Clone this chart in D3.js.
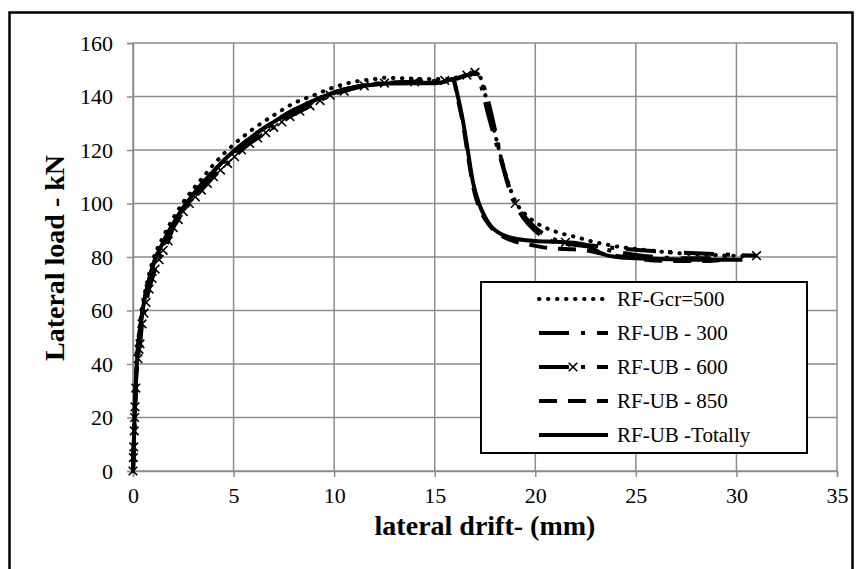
<!DOCTYPE html>
<html>
<head>
<meta charset="utf-8">
<script src="https://cdn.jsdelivr.net/npm/d3@7"></script>
<style>
  body { margin: 0; background: #fff; }
</style>
</head>
<body>
<svg id="chart" width="856" height="569"></svg>
<script>
const serif = "'Liberation Serif', 'Times New Roman', Tinos";

// tick values
const xTicks = [0, 5, 10, 15, 20, 25, 30, 35];
const yTicks = [0, 20, 40, 60, 80, 100, 120, 140, 160];

// series: [lateral drift (mm), lateral load (kN)]
const gcr500 = [[0,0],[0.05,14],[0.1,26],[0.2,43],[0.3,52],[0.4,58],[0.5,63],[0.75,72],[1,79],[1.5,87.5],[2,94.5],[2.5,100.5],[3,105.5],[3.5,110],[4,114.5],[4.5,118.5],[5,122],[6,128],[7,133],[8,137.5],[9,140.5],[10,143.5],[11,145.5],[12,146.5],[12.5,147],[13.5,146.8],[14.5,146.5],[15.5,146.5],[16.3,147.5],[16.8,148.5],[17.2,148],[17.5,141],[17.8,132],[18.2,120],[18.6,109],[19,101],[19.5,96],[20,93],[21,89.5],[22,87.5],[23,85.5],[24,84],[25,83],[26,82.2],[27,81.5],[28,81],[29,80.7],[30.4,80.3]];

const ub300 = [[0,0],[0.1,24],[0.2,41],[0.3,50],[0.4,56],[0.5,61],[0.75,70],[1,77],[1.5,85],[2,92],[2.5,98],[3,103],[3.5,107.5],[4,111.5],[4.5,115.5],[5,119],[6,125],[7,130],[8,134.5],[9,138.5],[10,141.5],[11,143.5],[12,144.8],[13,145.2],[14,145.5],[15,145.8],[16,146.5],[16.6,148],[17,148.5],[17.3,144],[17.6,135],[18,124],[18.4,113.5],[18.8,104],[19.2,97],[19.7,92],[20.3,88],[21,85.5],[22,84.5],[23,83.5],[24,82],[25,80.8],[26,80],[27.5,79.5],[29,79.5],[30,79.5]];

const ub600 = [[0,0],[0.02,5],[0.04,9],[0.06,15],[0.08,20],[0.1,24],[0.14,31],[0.25,42],[0.3,45.5],[0.35,47.5],[0.45,55],[0.55,59],[0.65,63],[0.8,68],[0.95,72],[1.1,75.5],[1.3,79],[1.5,82.5],[1.75,86],[2,91],[2.25,94],[2.5,97],[2.8,100],[3.1,102.5],[3.4,105],[3.7,107.5],[4,110],[4.35,112.5],[4.7,115],[5.05,117.5],[5.4,120],[5.8,122.5],[6.2,124.5],[6.6,126.5],[7,128.5],[7.4,130.5],[7.8,132.5],[8.3,134.5],[8.8,136.5],[9.3,138.5],[9.8,140.5],[10.5,142],[11.5,144],[12.5,145],[14,145.5],[15.5,146],[16.6,148],[17,149],[19,100],[21.5,85.5],[31,80.5]];

const ub850 = [[0,0],[0.1,24],[0.2,41],[0.3,50],[0.4,56],[0.5,61],[0.75,70],[1,77],[1.5,85.5],[2,92.5],[2.5,98.5],[3,103.5],[3.5,108],[4,112],[4.5,116],[5,119.5],[6,125.5],[7,130.5],[8,135],[9,138.5],[10,141.5],[11,143.5],[12,144.5],[13,145],[14,145],[15,145.2],[15.5,145.5],[15.9,146.5],[16.15,139],[16.4,130],[16.65,118],[16.95,105],[17.3,97],[17.7,92],[18.2,88.5],[18.9,86],[19.8,84.5],[20.5,83.5],[21.5,83],[22.5,82.5],[23.5,81],[24.5,80],[25.5,79],[27,78.5],[28.5,78.5],[29.3,79]];

const ubTotally = [[0,0],[0.05,12],[0.1,24],[0.15,34],[0.2,41],[0.3,50],[0.4,56],[0.5,61],[0.75,70],[1,77],[1.5,85.5],[2,92.5],[2.5,98.5],[3,103.5],[3.5,108],[4,112],[4.5,116],[5,119.5],[6,125.5],[7,130.5],[8,135],[9,138.5],[10,141.5],[11,143.5],[12,144.5],[13,145],[14,145],[15,145],[15.5,145.5],[15.9,146.5],[16.15,140],[16.35,133],[16.6,122],[16.9,108],[17.2,100],[17.5,95],[17.8,91.5],[18.2,89],[18.9,87],[20,86],[21,85.7],[21.9,85.3],[22.5,84.5],[23,82.5],[23.6,80.5],[24.5,79.7],[26,79.3],[28,79],[30.3,79]];

const seriesNames = ["RF-Gcr=500", "RF-UB - 300", "RF-UB - 600", "RF-UB - 850", "RF-UB -Totally"];
const seriesData = [gcr500, ub300, ub600, ub850, ubTotally];
const seriesDash = ["0.5,8.5", "30,12,4,12", "30,12,4,12", "18,11", null];
const seriesCap = ["round", "butt", "butt", "butt", "butt"];

const svg = d3.select("#chart");
const margin = { left: 133, right: 19, top: 43, bottom: 98 };
const width = 856 - margin.left - margin.right;
const height = 569 - margin.top - margin.bottom;

// outer frame
svg.append("rect")
  .attr("x", 9.5).attr("y", 12.5)
  .attr("width", 843).attr("height", 600)
  .attr("fill", "none").attr("stroke", "#000").attr("stroke-width", 2.5);

const g = svg.append("g").attr("transform", `translate(${margin.left},${margin.top})`);

const x = d3.scaleLinear().domain([0, 35]).range([0, width]);
const y = d3.scaleLinear().domain([0, 160]).range([height, 0]);

// grid
g.append("g").selectAll("line").data(xTicks).join("line")
  .attr("x1", d => x(d)).attr("x2", d => x(d))
  .attr("y1", 0).attr("y2", height)
  .attr("stroke", "#8c8c8c").attr("stroke-width", 1.5);
g.append("g").selectAll("line").data(yTicks).join("line")
  .attr("x1", 0).attr("x2", width)
  .attr("y1", d => y(d)).attr("y2", d => y(d))
  .attr("stroke", "#8c8c8c").attr("stroke-width", 1.5);

const xAxis = g.append("g").attr("transform", `translate(0,${height})`)
  .call(d3.axisBottom(x).tickValues(xTicks).tickSize(6).tickPadding(10));
const yAxis = g.append("g")
  .call(d3.axisLeft(y).tickValues(yTicks).tickSize(6).tickPadding(14));
[xAxis, yAxis].forEach(a => {
  a.select(".domain").attr("stroke", "#8c8c8c").attr("stroke-width", 1.5);
  a.selectAll(".tick line").attr("stroke", "#8c8c8c").attr("stroke-width", 1.5);
  a.selectAll(".tick text")
    .style("font-family", serif)
    .style("font-size", "22px")
    .attr("fill", "#000");
});

// lines
const line = d3.line().x(d => x(d[0])).y(d => y(d[1])).curve(d3.curveMonotoneX);
seriesData.forEach((data, i) => {
  g.append("path")
    .datum(data)
    .attr("d", line)
    .attr("fill", "none")
    .attr("stroke", "#000")
    .attr("stroke-width", 4)
    .attr("stroke-linecap", seriesCap[i])
    .attr("stroke-dasharray", seriesDash[i]);
});

// x markers for RF-UB - 600
const cross = d3.symbol().type(d3.symbolX).size(50);
g.append("g").selectAll("path").data(ub600).join("path")
  .attr("transform", d => `translate(${x(d[0])},${y(d[1])})`)
  .attr("d", cross)
  .attr("fill", "none")
  .attr("stroke", "#000")
  .attr("stroke-width", 1.6);

// axis titles
svg.append("text")
  .attr("x", 485).attr("y", 535)
  .attr("text-anchor", "middle")
  .style("font-family", serif)
  .style("font-weight", "bold")
  .style("font-size", "28px")
  .text("lateral drift- (mm)");
svg.append("text")
  .attr("transform", "translate(64,258) rotate(-90)")
  .attr("text-anchor", "middle")
  .style("font-family", serif)
  .style("font-weight", "bold")
  .style("font-size", "28px")
  .text("Lateral load - kN");

// legend
const legend = svg.append("g").attr("transform", "translate(481,282)");
legend.append("rect")
  .attr("width", 326).attr("height", 171)
  .attr("fill", "#fff").attr("stroke", "#000").attr("stroke-width", 2);
const rows = legend.selectAll("g").data(seriesNames).join("g")
  .attr("transform", (d, i) => `translate(0,${17 + i * 34})`);
rows.append("line")
  .attr("x1", 58).attr("x2", 127)
  .attr("stroke", "#000").attr("stroke-width", 4)
  .attr("stroke-linecap", (d, i) => seriesCap[i])
  .attr("stroke-dasharray", (d, i) => seriesDash[i]);
rows.filter((d, i) => i === 2).append("path")
  .attr("transform", "translate(92,0)")
  .attr("d", cross)
  .attr("fill", "none").attr("stroke", "#000").attr("stroke-width", 1.6);
rows.append("text")
  .attr("x", 136).attr("y", 7)
  .style("font-family", serif)
  .style("font-size", "21px")
  .text(d => d);
</script>
</body>
</html>
